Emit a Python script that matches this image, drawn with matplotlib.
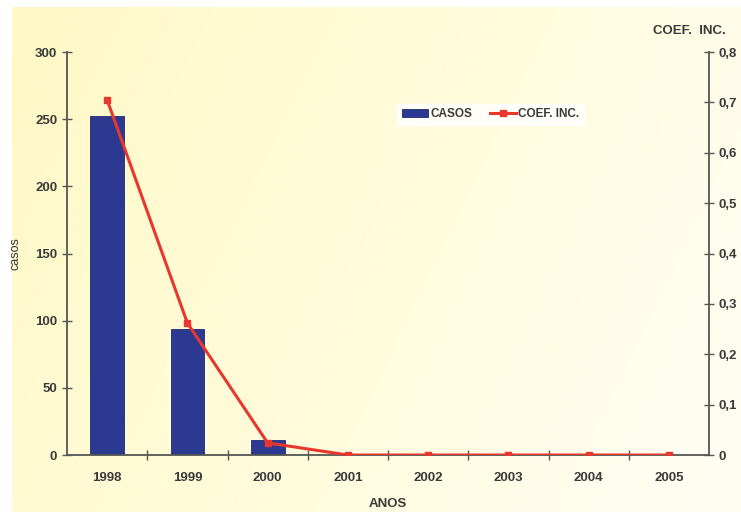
import numpy as np
import matplotlib.pyplot as plt
from matplotlib.colors import LinearSegmentedColormap

plt.rcParams['font.family'] = ['Liberation Sans Narrow', 'Liberation Sans', 'DejaVu Sans']

anos = ['1998', '1999', '2000', '2001', '2002', '2003', '2004', '2005']
casos = [252, 94, 11, 0, 0, 0, 0, 0]
coef_inc = [0.705, 0.262, 0.024, 0, 0, 0, 0, 0]

fig = plt.figure(figsize=(7.41, 5.12), dpi=100)

# background: pale yellow panel fading to white at the lower right
bg = fig.add_axes([0, 0, 1, 1], zorder=-10)
bg.set_xlim(0, 1)
bg.set_ylim(0, 1)
xx, yy = np.meshgrid(np.linspace(0, 1, 200), np.linspace(0, 1, 200))
grad = 0.75 * xx + 0.25 * yy  # yy=0 at top (origin upper)
cmap = LinearSegmentedColormap.from_list('bg', ['#fff9c6', '#fffcdc', '#fffef4'])
bg.imshow(grad, cmap=cmap, aspect='auto', extent=[12 / 741, 1, 0, 1 - 7 / 512],
          origin='upper')
bg.axis('off')

ax = fig.add_axes([0.0904, 0.1113, 0.8666, 0.7871])
ax.patch.set_alpha(0)
x = np.arange(len(anos))

bars = ax.bar(x, casos, width=0.42, color='#2b3990', edgecolor='#1f2a6e', linewidth=0.6,
              label='CASOS', zorder=2)
ax.set_xlim(-0.5, 7.5)
ax.set_ylim(0, 300)
ax.set_yticks([0, 50, 100, 150, 200, 250, 300])
ax.set_xticks(x)
ax.set_xticklabels(anos)
ax.set_xticks(np.arange(-0.5, 8, 1)[1:-1], minor=True)
ax.tick_params(axis='x', which='major', length=0, pad=12, labelsize=9.5, labelcolor='#3a3a3a')
ax.tick_params(axis='x', which='minor', direction='inout', length=7, color='#555555', width=1)
ax.tick_params(axis='y', direction='inout', length=7, color='#555555', width=1,
               labelsize=9.5, labelcolor='#3a3a3a')
for lab in ax.get_xticklabels() + ax.get_yticklabels():
    lab.set_fontweight('bold')
for s in ['top', 'right']:
    ax.spines[s].set_visible(False)
for s in ['left', 'bottom']:
    ax.spines[s].set_color('#555555')
    ax.spines[s].set_linewidth(1.3)
ax.set_ylabel('casos', fontsize=9, color='#333333', labelpad=10)
ax.set_xlabel('ANOS', fontsize=9.5, fontweight='bold', color='#3a3a3a', labelpad=10)

ax2 = ax.twinx()
ax2.plot(x, coef_inc, color='#e8372c', linewidth=2.2, marker='s', markersize=5,
         label='COEF. INC.', zorder=3)
ax2.set_ylim(0, 0.8)
ax2.set_yticks(np.arange(0, 0.81, 0.1))
ax2.set_yticklabels(['0', '0,1', '0,2', '0,3', '0,4', '0,5', '0,6', '0,7', '0,8'])
ax2.tick_params(axis='y', direction='inout', length=7, color='#555555', width=1,
                labelsize=9.5, labelcolor='#3a3a3a', pad=3)
for lab in ax2.get_yticklabels():
    lab.set_fontweight('bold')
for s in ['top', 'left', 'bottom']:
    ax2.spines[s].set_visible(False)
ax2.spines['right'].set_color('#555555')
ax2.spines['right'].set_linewidth(1.3)
fig.text(0.93, 0.94, 'COEF.  INC.', ha='center', va='center', fontsize=9.5,
         fontweight='bold', color='#3a3a3a')

h1, l1 = ax.get_legend_handles_labels()
h2, l2 = ax2.get_legend_handles_labels()
leg = ax2.legend(h1 + h2, l1 + l2, loc='center', bbox_to_anchor=(0.66, 0.845), ncol=2,
                 frameon=True, fancybox=False, fontsize=8.5, handlelength=2.2,
                 handletextpad=0.2, columnspacing=1.5, borderpad=0.4)
leg.get_frame().set_facecolor('white')
leg.get_frame().set_edgecolor('white')
for t in leg.get_texts():
    t.set_fontweight('bold')
    t.set_color('#3a3a3a')

fig.savefig('out.png', dpi=100)
